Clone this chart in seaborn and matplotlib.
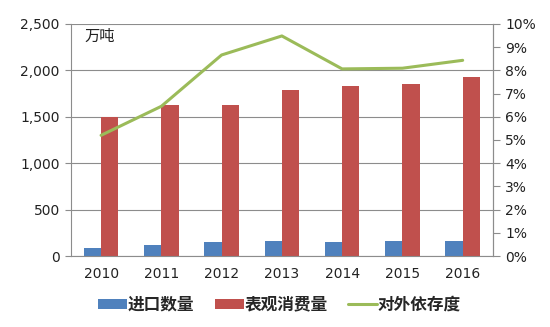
import numpy as np
import pandas as pd
import matplotlib
matplotlib.use("Agg")
import matplotlib.pyplot as plt
import seaborn as sns
from matplotlib.ticker import FuncFormatter, MultipleLocator, FixedLocator

years = ["2010", "2011", "2012", "2013", "2014", "2015", "2016"]
imports = [85, 115, 155, 165, 155, 160, 165]
consumption = [1498, 1627, 1628, 1789, 1832, 1853, 1929]
dependency = [5.2, 6.45, 8.66, 9.48, 8.06, 8.09, 8.43]
series_names = ["进口数量", "表观消费量", "对外依存度"]
unit_label = "万吨"

sns.set_theme(style="white")
plt.rcParams["font.family"] = ["DejaVu Sans", "Noto Sans CJK SC"]

df = pd.DataFrame({
    "year": years * 2,
    "value": imports + consumption,
    "series": [series_names[0]] * len(years) + [series_names[1]] * len(years),
})

fig = plt.figure(figsize=(5.5, 3.27), dpi=100)
ax = fig.add_axes([0.129, 0.217, 0.767, 0.71])

sns.barplot(data=df, x="year", y="value", hue="series",
            palette=["#4F81BD", "#C0504D"], width=0.57, saturation=1,
            linewidth=0, ax=ax, legend=True)

grid_c = "#8c8c8c"
ax.set_ylim(0, 2500)
ax.yaxis.set_major_locator(MultipleLocator(500))
ax.yaxis.set_major_formatter(FuncFormatter(lambda v, p: f"{int(v):,}"))
ax.grid(axis="y", color=grid_c, linewidth=0.8)
ax.set_axisbelow(True)
ax.set_xlabel("")
ax.set_ylabel("")
ax.set_xlim(-0.5, len(years) - 0.5)
ax.tick_params(axis="x", which="major", length=0, labelsize=10, pad=8, colors="#222222")
ax.xaxis.set_minor_locator(FixedLocator(np.arange(-0.5, len(years), 1.0)))
ax.tick_params(axis="x", which="minor", length=5, color=grid_c, width=0.8, direction="out")
ax.tick_params(axis="y", length=4, color=grid_c, width=0.8, labelsize=10, colors="#222222", pad=4)
ax.spines["top"].set_visible(False)
for s in ["left", "bottom", "right"]:
    ax.spines[s].set_color(grid_c)
    ax.spines[s].set_linewidth(0.8)

ax.text(0.033, 0.945, unit_label, transform=ax.transAxes, fontsize=11,
        family=["Noto Sans CJK SC"], va="center", ha="left", color="#222222")

ax2 = ax.twinx()
sns.lineplot(x=np.arange(len(years)), y=dependency, color="#9BBB59",
             linewidth=2.2, ax=ax2, label=series_names[2], legend=False)
ax2.set_ylim(0, 10)
ax2.yaxis.set_major_locator(MultipleLocator(1))
ax2.yaxis.set_major_formatter(FuncFormatter(lambda v, p: f"{int(round(v))}%"))
ax2.tick_params(axis="y", length=5, color=grid_c, width=0.8, labelsize=10, colors="#222222", pad=4)
for s in ["top", "left", "bottom"]:
    ax2.spines[s].set_visible(False)
ax2.spines["right"].set_color(grid_c)
ax2.spines["right"].set_linewidth(0.8)
ax2.grid(False)

h1, l1 = ax.get_legend_handles_labels()
h2, l2 = ax2.get_legend_handles_labels()
if ax.get_legend() is not None:
    ax.get_legend().remove()
fig.legend(h1 + h2, l1 + l2, loc="center", bbox_to_anchor=(0.508, 0.068),
           ncol=3, frameon=False, handlelength=1.75, handleheight=0.6,
           columnspacing=1.2, handletextpad=0.05,
           prop={"family": ["Noto Sans CJK SC"], "size": 12, "weight": "bold"})

fig.savefig("out.png", dpi=100)
